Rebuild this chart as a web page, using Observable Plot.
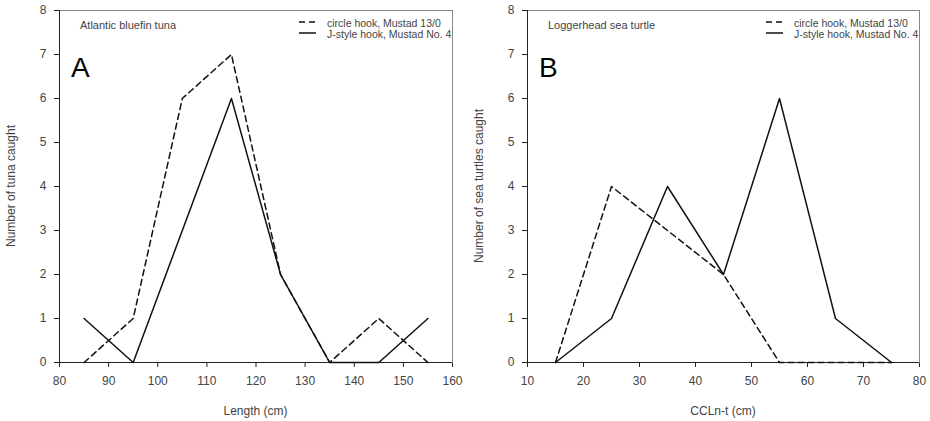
<!DOCTYPE html>
<html>
<head>
<meta charset="utf-8">
<script src="https://cdn.jsdelivr.net/npm/d3@7"></script>
<script src="https://cdn.jsdelivr.net/npm/@observablehq/plot@0.6"></script>
<style>
  body { margin: 0; background: #fff; }
  #wrap { display: flex; width: 930px; height: 421px; }
  svg { font-family: "Liberation Sans", Arial, sans-serif; }
</style>
</head>
<body>
<div id="wrap"></div>
<script>
// ---- Data ----
const lengthBins = [85, 95, 105, 115, 125, 135, 145, 155];
const tunaCircle = [0, 1, 6, 7, 2, 0, 1, 0];
const tunaJ      = [1, 0, 3, 6, 2, 0, 0, 1];

const cclBins      = [15, 25, 35, 45, 55, 65, 75];
const turtleCircle = [0, 4, 3, 2, 0, 0, 0];
const turtleJ      = [0, 1, 4, 2, 6, 1, 0];

const tunaXTicks   = [80, 90, 100, 110, 120, 130, 140, 150, 160];
const turtleXTicks = [10, 20, 30, 40, 50, 60, 70, 80];
const yTicks       = [0, 1, 2, 3, 4, 5, 6, 7, 8];

const legendLabels = ["circle hook, Mustad 13/0", "J-style hook, Mustad No. 4"];

function panel({bins, circle, jstyle, xTicks, letter, title, xLabel, yLabel, marginLeft, marginRight, yTitleX}) {
  const W = 465, H = 421, mt = 10, mb = 59;
  const rows = bins.map((b, i) => ({x: b, c: circle[i], j: jstyle[i]}));
  const plot = Plot.plot({
    width: W, height: H,
    marginLeft, marginRight, marginTop: mt, marginBottom: mb,
    style: {fontFamily: '"Liberation Sans", Arial, sans-serif', fontSize: "12px", color: "#444", background: "white"},
    x: {domain: [xTicks[0], xTicks[xTicks.length - 1]], ticks: xTicks, tickSize: 5, tickPadding: 9, label: null},
    y: {domain: [0, 8], ticks: yTicks, tickSize: 5, tickPadding: 8, label: null},
    marks: [
      Plot.frame({stroke: "#888", strokeWidth: 1}),
      Plot.ruleX([xTicks[0]], {stroke: "#222"}),
      Plot.ruleY([0], {stroke: "#222"}),
      Plot.line(rows, {x: "x", y: "c", stroke: "#111", strokeWidth: 1.5, strokeDasharray: "6,4"}),
      Plot.line(rows, {x: "x", y: "j", stroke: "#111", strokeWidth: 1.5})
    ]
  });
  const svg = d3.select(plot);
  svg.selectAll("g[aria-label$='axis'] path, g[aria-label$='tick'] path").attr("stroke", "#222");
  const fl = marginLeft, fr = W - marginRight, fb = H - mb;
  const g = svg.append("g").attr("text-anchor", "start");
  // panel title
  g.append("text").attr("x", fl + 21).attr("y", 29).attr("font-size", 11).attr("fill", "#444").text(title);
  // big letter
  g.append("text").attr("x", fl + 12).attr("y", 77).attr("font-size", 28).attr("fill", "#000").text(letter);
  // legend
  const ly = [22, 33];
  const dash = ["6,4", null];
  legendLabels.forEach((lab, i) => {
    const ln = g.append("line").attr("x1", fr - 153).attr("x2", fr - 136).attr("y1", ly[i]).attr("y2", ly[i])
      .attr("stroke", "#111").attr("stroke-width", 1.5);
    if (dash[i]) ln.attr("stroke-dasharray", dash[i]);
    g.append("text").attr("x", fr - 125).attr("y", ly[i] + 4.5).attr("font-size", 10.5).attr("fill", "#444").text(lab);
  });
  // axis titles
  g.append("text").attr("x", (fl + fr) / 2).attr("y", 415).attr("text-anchor", "middle")
    .attr("font-size", 12).attr("fill", "#444").text(xLabel);
  g.append("text").attr("transform", `translate(${yTitleX},${(10 + fb) / 2}) rotate(-90)`)
    .attr("text-anchor", "middle").attr("dominant-baseline", "middle")
    .attr("font-size", 12).attr("fill", "#444").text(yLabel);
  return plot;
}

const wrap = document.getElementById("wrap");
wrap.appendChild(panel({
  bins: lengthBins, circle: tunaCircle, jstyle: tunaJ, xTicks: tunaXTicks,
  letter: "A", title: "Atlantic bluefin tuna", xLabel: "Length (cm)", yLabel: "Number of tuna caught",
  marginLeft: 59, marginRight: 13, yTitleX: 12
}));
wrap.appendChild(panel({
  bins: cclBins, circle: turtleCircle, jstyle: turtleJ, xTicks: turtleXTicks,
  letter: "B", title: "Loggerhead sea turtle", xLabel: "CCLn-t (cm)", yLabel: "Number of sea turtles caught",
  marginLeft: 62, marginRight: 11, yTitleX: 15
}));
</script>
</body>
</html>
